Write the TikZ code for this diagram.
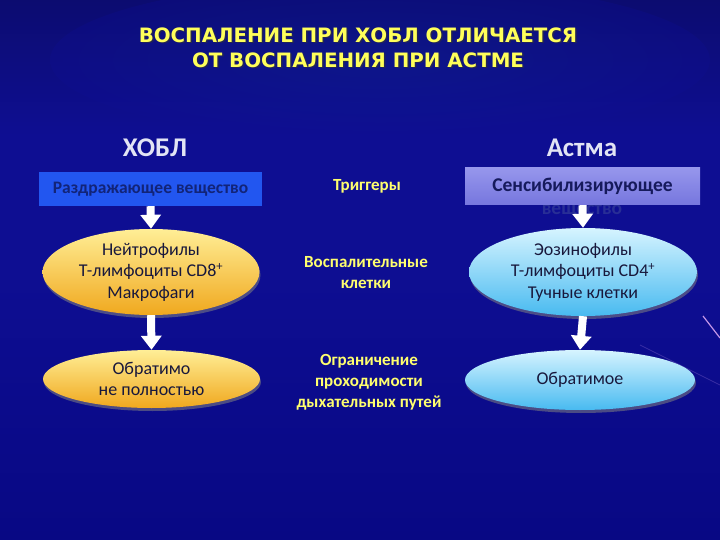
\documentclass[tikz,border=0pt]{standalone}
\usepackage{fontspec}
\setmainfont{Carlito}
\newfontfamily\titlefont{DejaVu Sans}
\usetikzlibrary{arrows.meta,shapes.geometric,shadows}
\definecolor{bgtop}{RGB}{12,12,112}
\definecolor{bgmid}{RGB}{14,14,146}
\definecolor{bgbot}{RGB}{8,8,132}
\definecolor{ttlyellow}{RGB}{255,255,90}
\definecolor{midyellow}{RGB}{255,255,110}
\definecolor{headwhite}{RGB}{226,228,244}
\definecolor{irrblue}{RGB}{34,86,240}
\definecolor{irrtext}{RGB}{18,36,120}
\definecolor{senstop}{RGB}{150,150,236}
\definecolor{sensbot}{RGB}{118,118,222}
\definecolor{senstext}{RGB}{22,26,92}
\definecolor{hiddentext}{RGB}{40,46,150}
\definecolor{ylwtop}{RGB}{255,238,150}
\definecolor{ylwbot}{RGB}{240,168,30}
\definecolor{blutop}{RGB}{214,244,255}
\definecolor{blubot}{RGB}{72,186,240}
\definecolor{elltext}{RGB}{24,24,60}
\definecolor{streak}{RGB}{196,150,232}
\begin{document}
\begin{tikzpicture}[x=1pt,y=-1pt,
  title/.style={font=\titlefont\bfseries\fontsize{19.8}{25}\selectfont, text=ttlyellow, align=center, inner sep=0pt},
  head/.style={font=\bfseries\fontsize{27}{30}\selectfont, text=headwhite, inner sep=0pt},
  midtxt/.style={font=\bfseries\fontsize{17}{21}\selectfont, text=midyellow, align=center, inner sep=0pt},
  irrbox/.style={rectangle, fill=irrblue, minimum width=223pt, minimum height=34pt, inner sep=0pt,
     font=\bfseries\fontsize{17.5}{20}\selectfont, text=irrtext},
  sensbox/.style={rectangle, top color=senstop, bottom color=sensbot, minimum width=235pt, minimum height=37pt, inner sep=0pt,
     font=\bfseries\fontsize{19.5}{22}\selectfont, text=senstext},
  yell/.style={ellipse, top color=ylwtop, bottom color=ylwbot, draw=none, inner sep=0pt, align=center,
     font=\fontsize{18}{21.5}\selectfont, text=elltext,
     drop shadow={shadow xshift=1pt, shadow yshift=-3pt, opacity=0.55}},
  bell/.style={ellipse, top color=blutop, bottom color=blubot, draw=none, inner sep=0pt, align=center,
     font=\fontsize{18}{21.5}\selectfont, text=elltext,
     drop shadow={shadow xshift=1pt, shadow yshift=-3pt, opacity=0.55}},
  flow/.style={draw=white, line width=8pt, -{Triangle[width=20pt,length=14pt]}}
]
\useasboundingbox (0,0) rectangle (720,540);
% background
\begin{scope}
\clip (0,0) rectangle (720,540);
\shade[top color=bgtop, bottom color=bgmid, middle color=bgmid] (0,0) rectangle (720,270);
\shade[top color=bgmid, bottom color=bgbot] (0,270) rectangle (720,540);
\shade[inner color=bgmid!70!cyan!40!bgmid, outer color=bgmid, opacity=0.3] (380,60) ellipse (330 and 80);
\draw[streak, line width=1.2pt] (703,316) -- (720,338);
\draw[streak!40!bgmid, line width=0.8pt, opacity=0.6] (640,345) -- (720,385);
\end{scope}

% title
\node[title, text=black!80, opacity=0.6] at (359.5,49) {ВОСПАЛЕНИЕ ПРИ ХОБЛ ОТЛИЧАЕТСЯ\\ОТ ВОСПАЛЕНИЯ ПРИ АСТМЕ};
\node[title] (ttl) at (358,47.5) {ВОСПАЛЕНИЕ ПРИ ХОБЛ ОТЛИЧАЕТСЯ\\ОТ ВОСПАЛЕНИЯ ПРИ АСТМЕ};

% column heads
\node[head] (copd) at (155,148) {ХОБЛ};
\node[head] (asthma) at (582,148) {Астма};

% left column
\node[irrbox] (irr) at (150.5,189) {Раздражающее вещество};
\node[yell, minimum width=217pt, minimum height=86pt] (ncell) at (151,272) {Нейтрофилы\\Т-лимфоциты CD8\textsuperscript{+}\\Макрофаги};
\node[yell, minimum width=217pt, minimum height=58pt] (nrev) at (151.5,379) {Обратимо\\не полностью};

% middle column
\node[midtxt] (trig) at (367,186) {Триггеры};
\node[midtxt] (infl) at (366,273) {Воспалительные\\клетки};
\node[midtxt] (obstr) at (369,382) {Ограничение\\проходимости\\дыхательных путей};

% right column
\node[font=\bfseries\fontsize{19.5}{22}\selectfont, text=hiddentext, inner sep=0pt] (sens2) at (582,211) {вещество};
\node[sensbox] (sens) at (582.5,186.5) {Сенсибилизирующее};
\node[bell, minimum width=228pt, minimum height=88pt] (ecell) at (583,272) {Эозинофилы\\Т-лимфоциты CD4\textsuperscript{+}\\Тучные клетки};
\node[bell, minimum width=230pt, minimum height=60pt] (rev) at (580,380) {Обратимое};

% arrows
\draw[flow] (irr.south) -- (ncell.north);
\draw[flow] (ncell.south) -- (nrev.north);
\draw[flow] (sens.south) -- (ecell.north);
\draw[flow] (ecell.south) -- (rev.north);
\end{tikzpicture}
\end{document}
